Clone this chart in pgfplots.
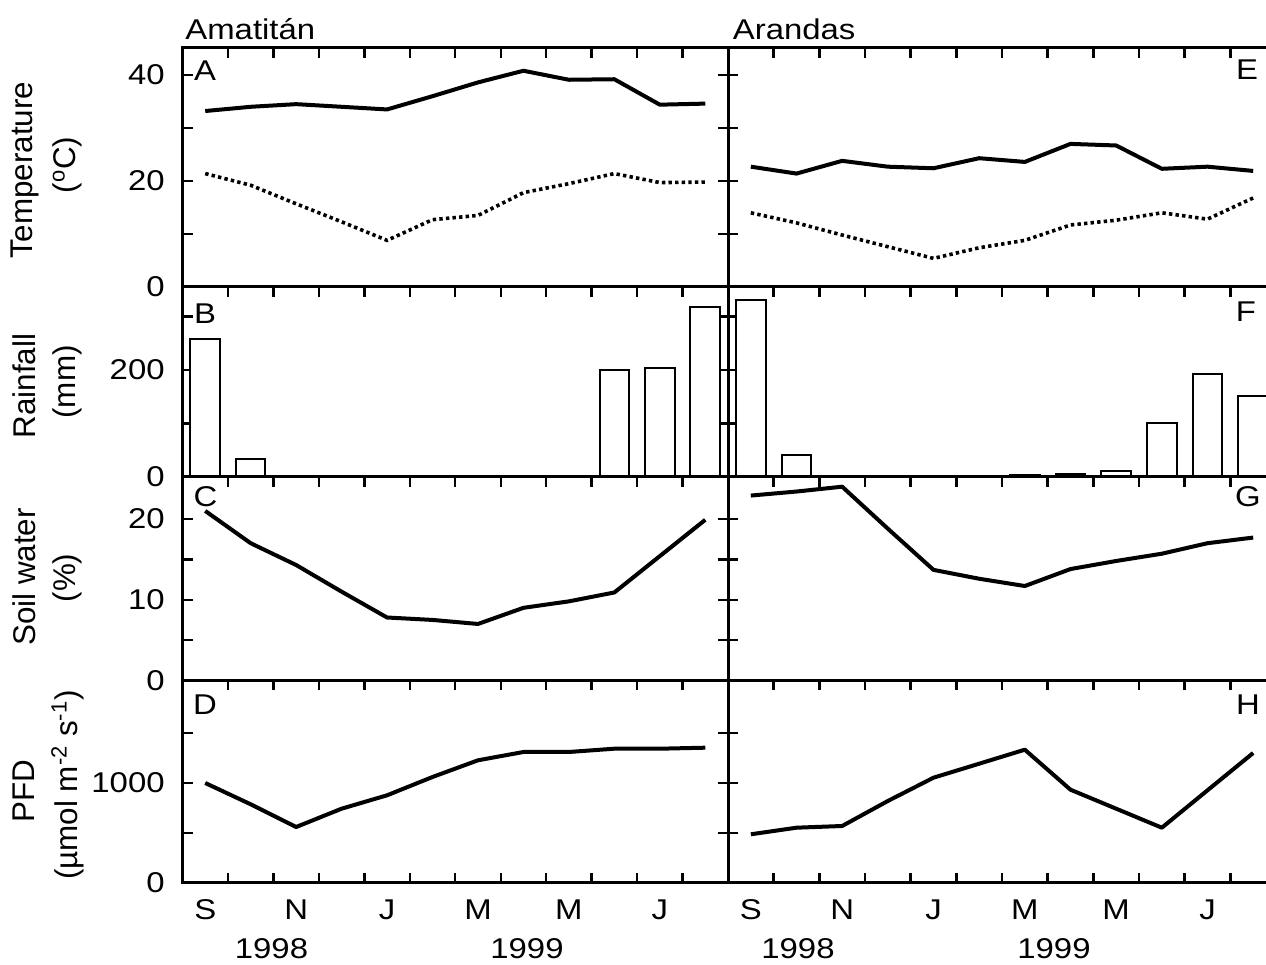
\documentclass[border=0pt]{standalone}
\usepackage{fontspec}
\setmainfont{Liberation Sans}[FakeStretch=1.15]
\newfontfamily\labelfont{Liberation Sans}
\usepackage{pgfplots}
\pgfplotsset{compat=1.18}
\pgfplotsset{
  panel/.style={
    scale only axis, xmin=0.5, xmax=12.5,
    axis line style={line width=1.5pt},
    tick align=inside, major tick length=5pt,
    tick style={line width=1.2pt, black},
    xtick={1.5,2.5,...,11.5}, xticklabels={},
    ytick pos=both,
    /pgf/number format/assume math mode=true,
    yticklabel style={anchor=east, inner sep=0pt, xshift=-8.75pt},
    clip=false,
  },
  leftcol/.style={panel, width=272.75pt},
  rightcol/.style={panel, width=274pt, yticklabels={}},
  row1/.style={ymin=0, ymax=45.15, ytick={0,10,20,30,40}, height=119.65pt, xtick pos=right},
  row2/.style={ymin=0, ymax=355, ytick={0,100,200,300}, height=95pt, xtick pos=right},
  row3/.style={ymin=0, ymax=25.2, ytick={0,5,10,15,20}, height=101.75pt, xtick pos=right},
  row4/.style={ymin=0, ymax=2025, ytick={0,500,1000,1500}, height=101.25pt, xtick pos=both,
    extra x ticks={1,3,5,7,9,11}, extra x tick labels={S,N,J,M,M,J},
    extra x tick style={major tick length=0pt, tick style={draw=none}},
    xticklabel style={anchor=base, inner sep=0pt, yshift=-18.5pt}},
  solidline/.style={line width=2pt, black, line join=round},
  dottedline/.style={line width=1.8pt, black, dash pattern=on 1.7pt off 1.6pt},
  bars/.style={ybar, bar width=0.65, fill=white, draw=black, line width=1pt},
}
\begin{document}
\begin{tikzpicture}[font=\fontsize{14.3pt}{17pt}\selectfont]
% ---------- Row 1: Temperature ----------
\begin{axis}[leftcol, row1, at={(91.25pt,339pt)}, anchor=south west, yticklabels={0,,20,,40}]
\addplot[solidline] coordinates {(1,33.2)(2,34.0)(3,34.5)(4,34.0)(5,33.5)(6,36.0)(7,38.6)(8,40.8)(9,39.1)(10,39.2)(11,34.4)(12,34.6)};
\addplot[dottedline] coordinates {(1,21.4)(2,19.2)(3,15.7)(4,12.3)(5,8.8)(6,12.7)(7,13.5)(8,17.8)(9,19.5)(10,21.4)(11,19.7)(12,19.8)};
\end{axis}
\begin{axis}[rightcol, row1, at={(364pt,339pt)}, anchor=south west]
\addplot[solidline] coordinates {(1,22.7)(2,21.4)(3,23.8)(4,22.7)(5,22.4)(6,24.3)(7,23.6)(8,27.0)(9,26.7)(10,22.3)(11,22.7)(12,21.9)};
\addplot[dottedline] coordinates {(1,14.0)(2,12.1)(3,9.8)(4,7.6)(5,5.4)(6,7.4)(7,8.8)(8,11.7)(9,12.6)(10,14.0)(11,12.8)(12,16.8)};
\end{axis}
% ---------- Row 2: Rainfall ----------
\begin{axis}[leftcol, row2, at={(91.25pt,244pt)}, anchor=south west, yticklabels={0,,200,}]
\addplot[bars] coordinates {(1,257)(2,34)(10,200)(11,204)(12,318)};
\end{axis}
\begin{axis}[rightcol, row2, at={(364pt,244pt)}, anchor=south west]
\addplot[bars] coordinates {(1,331)(2,42)(7,3)(8,5)(9,12)(10,100)(11,193)(12,152)};
\end{axis}
% ---------- Row 3: Soil water ----------
\begin{axis}[leftcol, row3, at={(91.25pt,142.25pt)}, anchor=south west, yticklabels={0,,10,,20}]
\addplot[solidline] coordinates {(1,21.0)(2,17.0)(3,14.3)(4,11.0)(5,7.8)(6,7.5)(7,7.0)(8,9.0)(9,9.8)(10,10.9)(11,15.4)(12,19.9)};
\end{axis}
\begin{axis}[rightcol, row3, at={(364pt,142.25pt)}, anchor=south west]
\addplot[solidline] coordinates {(1,22.9)(2,23.4)(3,24.0)(4,18.8)(5,13.7)(6,12.6)(7,11.7)(8,13.8)(9,14.8)(10,15.7)(11,17.0)(12,17.7)};
\end{axis}
% ---------- Row 4: PFD ----------
\begin{axis}[leftcol, row4, at={(91.25pt,41pt)}, anchor=south west, yticklabels={0,,1000,}]
\addplot[solidline] coordinates {(1,1000)(2,787)(3,560)(4,743)(5,877)(6,1060)(7,1227)(8,1310)(9,1310)(10,1343)(11,1343)(12,1353)};
\end{axis}
\begin{axis}[rightcol, row4, at={(364pt,41pt)}, anchor=south west]
\addplot[solidline] coordinates {(1,487)(2,553)(3,570)(4,820)(5,1053)(6,1193)(7,1333)(8,933)(9,743)(10,553)(11,927)(12,1300)};
\end{axis}
% ---------- Texts ----------
\node[anchor=base west, inner sep=0pt] at (92.5pt,462.75pt) {Amatitán};
\node[anchor=base west, inner sep=0pt] at (366.25pt,462.75pt) {Arandas};
\tikzset{plet/.style={inner sep=0pt, font=\fontsize{14.3pt}{17pt}\selectfont}}
\node[plet] at (102.5pt,447pt) {A};
\node[plet] at (102.5pt,325.75pt) {B};
\node[plet] at (102.75pt,234pt) {C};
\node[plet] at (102.5pt,130pt) {D};
\node[plet] at (623.5pt,447.5pt) {E};
\node[plet] at (623pt,326.5pt) {F};
\node[plet] at (624pt,234pt) {G};
\node[plet] at (624pt,130pt) {H};
\node[anchor=base, inner sep=0pt] at (135.75pt,3pt) {1998};
\node[anchor=base, inner sep=0pt] at (263.5pt,3pt) {1999};
\node[anchor=base, inner sep=0pt] at (399pt,3pt) {1998};
\node[anchor=base, inner sep=0pt] at (527pt,3pt) {1999};
\tikzset{ylab/.style={rotate=90, inner sep=0pt, font=\labelfont\fontsize{15.7pt}{18pt}\selectfont}}
\node[ylab] at (12.5pt,397.5pt) {Temperature};
\node[ylab] at (33.5pt,400pt) {(\textsuperscript{o}C)};
\node[ylab] at (12pt,289.5pt) {Rainfall};
\node[ylab] at (33.75pt,291.5pt) {(mm)};
\node[ylab] at (12pt,194pt) {Soil water};
\node[ylab] at (33.75pt,193.5pt) {(\%)};
\node[ylab] at (12pt,87pt) {PFD};
\node[ylab] at (33.75pt,90pt) {(µmol m\textsuperscript{-2} s\textsuperscript{-1})};
\pgfresetboundingbox
\useasboundingbox (0,0) rectangle (633pt,482.5pt);
\end{tikzpicture}
\end{document}
